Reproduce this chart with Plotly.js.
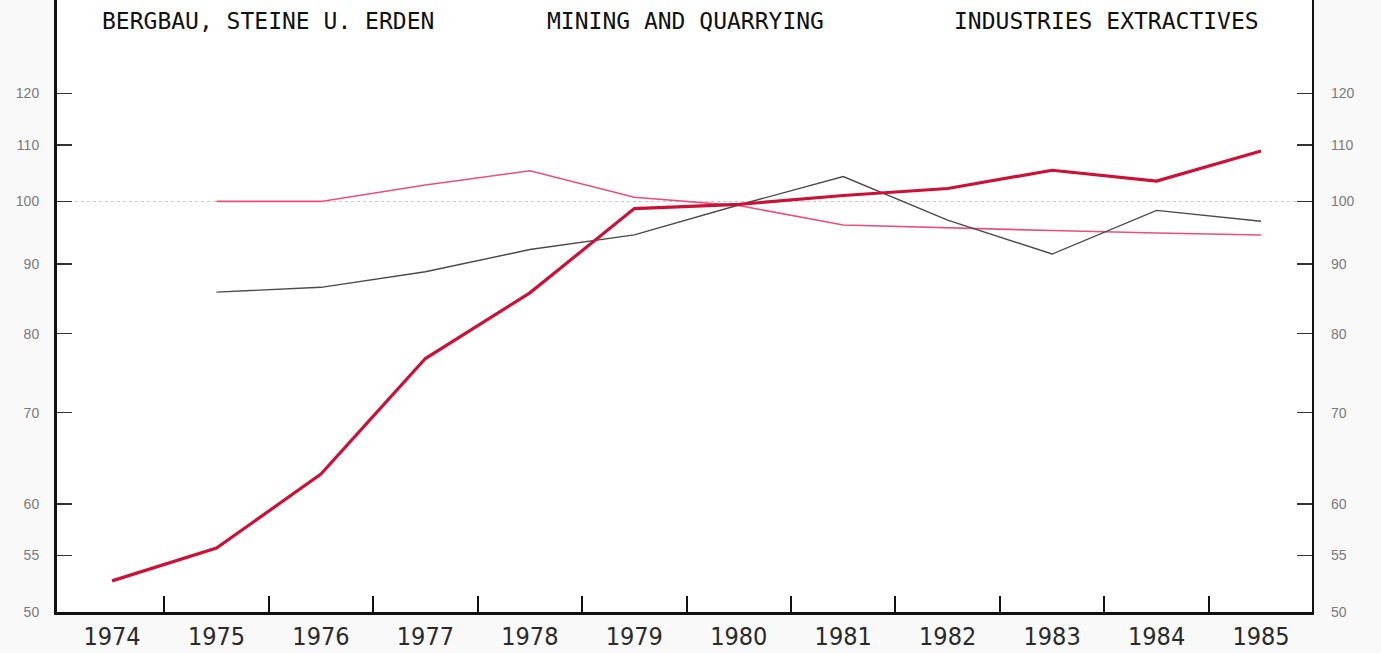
<!DOCTYPE html>
<html>
<head>
<meta charset="utf-8">
<script src="https://cdn.plot.ly/plotly-3.0.1.min.js"></script>
<style>html,body{margin:0;padding:0;background:#fafafa;}#chart{width:1381px;height:653px;}</style>
</head>
<body>
<div id="chart"></div>
<script>
// ---- data ----
const years = [1974, 1975, 1976, 1977, 1978, 1979, 1980, 1981, 1982, 1983, 1984, 1985];
const seriesRed   = [52.7, 55.7, 63.1, 76.7, 85.7, 98.8, 99.5, 101.0, 102.2, 105.4, 103.5, 108.9];
const seriesBlack = [null, 85.8, 86.5, 88.8, 92.2, 94.5, 99.4, 104.3, 96.9, 91.5, 98.5, 96.7];
const seriesPink  = [null, 100.0, 100.0, 102.8, 105.3, 100.7, 99.3, 96.1, 95.6, 95.2, 94.8, 94.5];
const yTickValues = [50, 55, 60, 70, 80, 90, 100, 110, 120];
const baseValue = [100];
const titles = ["BERGBAU, STEINE U. ERDEN", "MINING AND QUARRYING", "INDUSTRIES EXTRACTIVES"];

// ---- chart ----
const yRange = [Math.log10(50), Math.log10(140.5)];
const xRange = [years[0] - 0.527, years[years.length - 1] + 0.488];
const boundaries = years.slice(0, -1).map(y => y + 0.5);

const traces = [
  {x: years, y: seriesPink, type: 'scatter', mode: 'lines', line: {color: '#e8507a', width: 1.6}, hoverinfo: 'skip'},
  {x: years, y: seriesBlack, type: 'scatter', mode: 'lines', line: {color: '#4a4a4a', width: 1.4}, hoverinfo: 'skip'},
  {x: years, y: seriesRed, type: 'scatter', mode: 'lines', line: {color: '#cc1136', width: 3.2}, hoverinfo: 'skip'}
];

const tickFontY = {family: 'Liberation Sans, Arial, sans-serif', size: 14, color: '#7a7a7a'};

const layout = {
  width: 1381, height: 653,
  margin: {l: 57, r: 69, t: 0, b: 41},
  paper_bgcolor: '#f9f9f9',
  plot_bgcolor: '#ffffff',
  showlegend: false,
  xaxis: {
    type: 'linear', range: xRange,
    tickvals: years, ticktext: years.map(String),
    ticks: '', showgrid: false, zeroline: false,
    showline: true, linecolor: '#111', linewidth: 2.5,
    tickfont: {family: 'DejaVu Sans Condensed, DejaVu Sans, sans-serif', size: 25, color: '#2a2a2a'},
    ticklabelstandoff: 0
  },
  xaxis2: {
    type: 'linear', range: xRange, overlaying: 'x', anchor: 'y', side: 'bottom',
    tickvals: boundaries, ticks: 'inside', ticklen: 16, tickwidth: 2, tickcolor: '#111',
    showticklabels: false, showgrid: false, zeroline: false, showline: false
  },
  yaxis: {
    type: 'log', range: yRange,
    tickvals: yTickValues, ticktext: yTickValues.map(String),
    ticks: 'inside', ticklen: 15, tickwidth: 1.5, tickcolor: '#333',
    showgrid: false, zeroline: false,
    showline: true, linecolor: '#111', linewidth: 3,
    tickfont: tickFontY, ticklabelstandoff: 12
  },
  yaxis2: {
    type: 'log', range: yRange, overlaying: 'y', side: 'right', anchor: 'x',
    tickvals: yTickValues, ticktext: yTickValues.map(String),
    ticks: 'inside', ticklen: 15, tickwidth: 1.5, tickcolor: '#333',
    showgrid: false, zeroline: false,
    showline: true, linecolor: '#111', linewidth: 2.2,
    tickfont: tickFontY, ticklabelstandoff: 14
  },
  yaxis3: {
    type: 'log', range: yRange, overlaying: 'y', side: 'left', anchor: 'x',
    tickvals: baseValue, showticklabels: false, ticks: '',
    showgrid: true, gridcolor: '#c8c8c8', gridwidth: 1, griddash: 'dot',
    zeroline: false, showline: false
  },
  annotations: titles.map((t, i) => ({
    text: t, xref: 'paper', yref: 'paper',
    x: [0.168, 0.501, 0.836][i], y: 0.966,
    xanchor: 'center', yanchor: 'middle', showarrow: false,
    font: {family: 'DejaVu Sans Mono, monospace', size: 23, color: '#111'}
  }))
};

// invisible helper traces so the overlay axes are drawn
traces.unshift({x: [years[0]], y: [100], xaxis: 'x2', yaxis: 'y3', mode: 'markers', marker: {opacity: 0}, hoverinfo: 'skip'});
traces.unshift({x: [years[0]], y: [100], xaxis: 'x', yaxis: 'y2', mode: 'markers', marker: {opacity: 0}, hoverinfo: 'skip'});

Plotly.newPlot('chart', traces, layout, {displayModeBar: false, staticPlot: true});
</script>
</body>
</html>
